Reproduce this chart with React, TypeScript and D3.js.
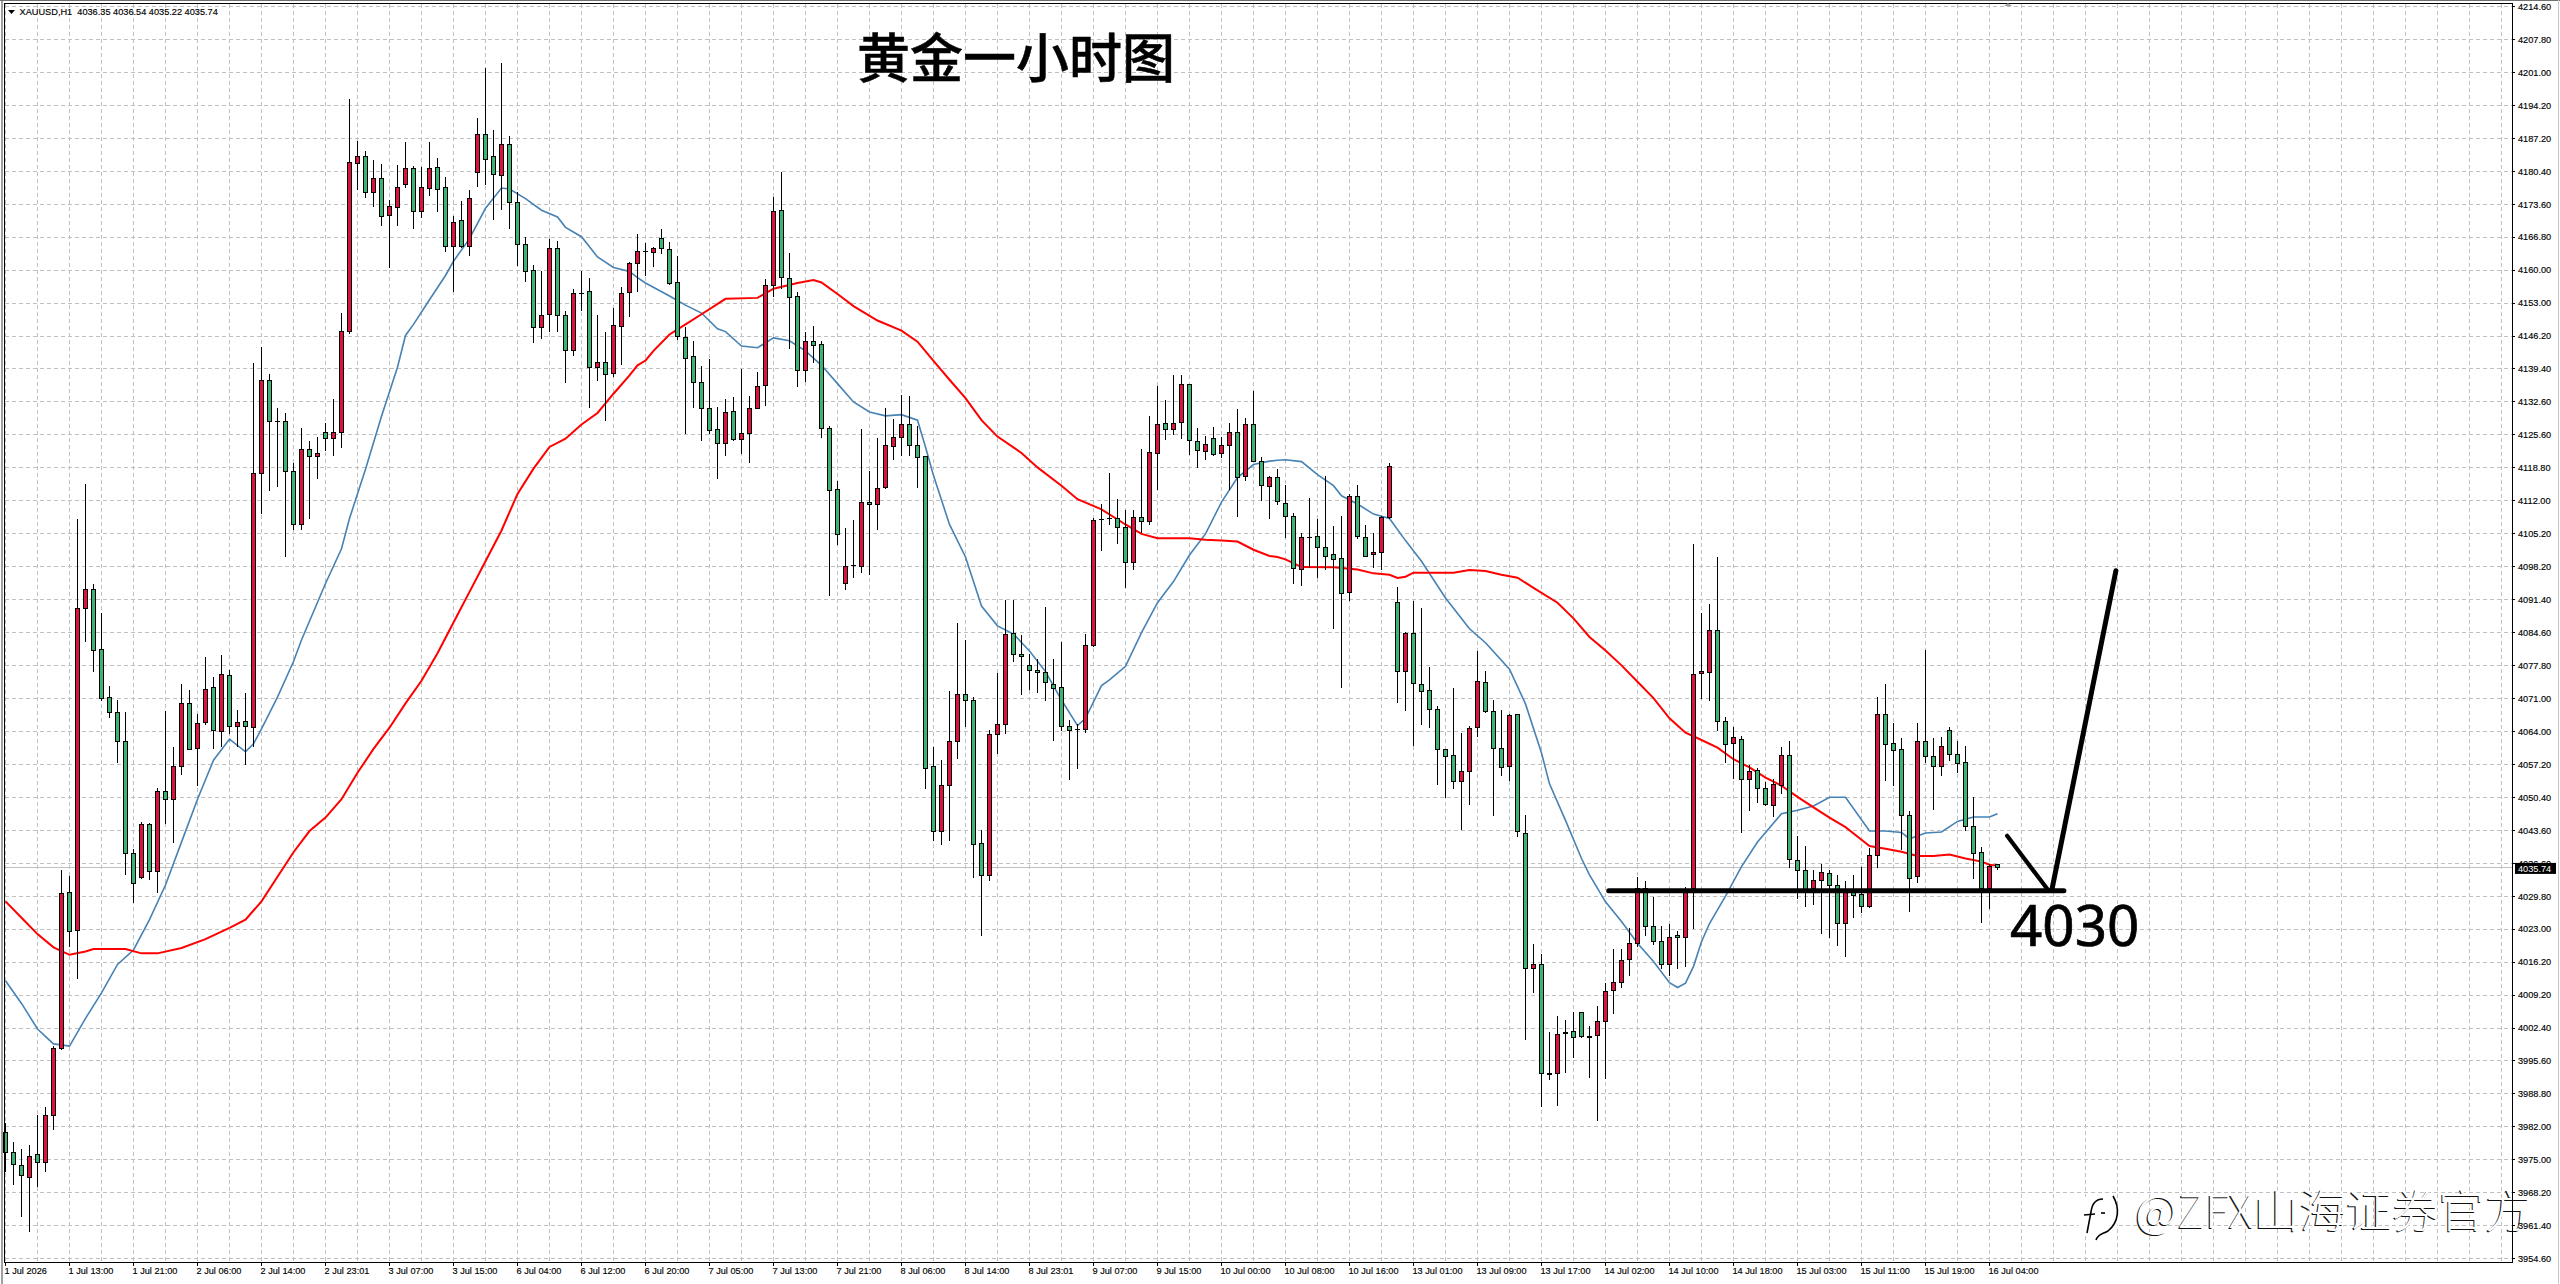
import * as d3 from 'd3';
import * as React from 'react';

const symbolLine = 'XAUUSD,H1  4036.35 4036.54 4035.22 4035.74';
const lastPrice = 4035.74;

const priceLabels = [
  '4214.60', '4207.80', '4201.00', '4194.20', '4187.20', '4180.40', '4173.60', '4166.80', '4160.00', '4153.00',
  '4146.20', '4139.40', '4132.60', '4125.60', '4118.80', '4112.00', '4105.20', '4098.20', '4091.40', '4084.60',
  '4077.80', '4071.00', '4064.00', '4057.20', '4050.40', '4043.60', '4036.60', '4029.80', '4023.00', '4016.20',
  '4009.20', '4002.40', '3995.60', '3988.80', '3982.00', '3975.00', '3968.20', '3961.40', '3954.60',
];

// one label every 8 bars
const timeLabels = [
  '1 Jul 2026', '1 Jul 13:00', '1 Jul 21:00', '2 Jul 06:00', '2 Jul 14:00', '2 Jul 23:01', '3 Jul 07:00', '3 Jul 15:00',
  '6 Jul 04:00', '6 Jul 12:00', '6 Jul 20:00', '7 Jul 05:00', '7 Jul 13:00', '7 Jul 21:00', '8 Jul 06:00', '8 Jul 14:00',
  '8 Jul 23:01', '9 Jul 07:00', '9 Jul 15:00', '10 Jul 00:00', '10 Jul 08:00', '10 Jul 16:00', '13 Jul 01:00', '13 Jul 09:00',
  '13 Jul 17:00', '14 Jul 02:00', '14 Jul 10:00', '14 Jul 18:00', '15 Jul 03:00', '15 Jul 11:00', '15 Jul 19:00', '16 Jul 04:00',
];

const opens = [
  3980.7,3976.6,3973.9,3971.5,3976.2,3974.5,3984.4,3998.3,4030.6,4022.7,
  4089.7,4093.6,4081.1,4071.2,4068.1,4061.9,4038.7,4033.7,4044.8,4034.9,
  4051.7,4049.9,4056.9,4069.9,4060.6,4065.9,4073.1,4064.1,4075.7,4065.1,
  4066.2,4064.9,4117.7,4137,4128.5,4128.5,4118,4107,4122.7,4121.2,
  4126.2,4124.8,4126.2,4147.1,4182,4183.4,4175.9,4178.8,4171.3,4172.8,
  4177.6,4180.9,4172,4176.9,4181.1,4177,4164.7,4170.1,4164.7,4180.2,
  4188.1,4183.4,4179.6,4186,4174,4165.1,4159.8,4147.9,4150.6,4164.3,
  4150.4,4143.1,4155.1,4155.4,4139.6,4140.7,4138.4,4148.1,4155.2,4161.2,
  4163.8,4163.6,4166.4,4164.1,4157.2,4145.9,4141.9,4136.5,4131.1,4126.8,
  4123.8,4130.5,4124.7,4126,4131.1,4135.9,4156.6,4172.3,4158.2,4154.3,
  4139,4145,4144.4,4127,4114.3,4094.8,4098.5,4098.4,4111.7,4111.3,
  4114.7,4123.2,4125.1,4127.8,4123.5,4121.2,4056.7,4043.2,4052.9,4061.9,
  4071.8,4070.5,4040.9,4034.1,4063.5,4065.5,4084.5,4080.1,4077.8,4076.7,
  4076.4,4073.8,4073.1,4065.1,4064.5,4064.4,4082,4108,4108.2,4108.3,
  4106.4,4099.1,4108.6,4107.7,4121.8,4128.1,4126.8,4128.2,4136.1,4124.3,
  4122.3,4124.8,4121.8,4123.4,4126.2,4117,4127.8,4120.1,4114.9,4116.9,
  4111.4,4108.8,4097.7,4104.4,4104.5,4102.2,4100.8,4099.9,4092.9,4112.8,
  4104.3,4100.8,4101.2,4108.4,4090.9,4076.5,4084.5,4073.9,4072.5,4068.7,
  4060.4,4059,4053.6,4055.8,4064.8,4074.3,4068.3,4060.6,4056.7,4067.5,
  4042.9,4014.8,4015.7,3993,3993,4001.4,4001.8,4005.7,4000.7,4000.9,
  4003.9,4010.3,4012,4016.8,4020.1,4031.5,4023.6,4020.5,4015.7,4021.7,
  4021.3,4031.4,4076.1,4076.4,4085.1,4066.2,4061.6,4062.5,4054.2,4055.9,
  4052.2,4048.8,4052.8,4059,4037.2,4035.2,4031.4,4033.2,4034.5,4032.1,
  4024.3,4030.8,4030.3,4027.8,4038.4,4067.6,4061.5,4060.4,4046.7,4033.9,
  4062,4058.9,4056.7,4064.2,4059.3,4057.7,4044.4,4038.9,4031.4,4036.35,
];

const highs = [
  3982.8,3978.8,3977.4,3978.2,3984.5,3986,3998.8,4035.4,4034.1,4108.1,
  4115.5,4094.7,4088.6,4073.6,4070.6,4068.2,4039.6,4045.2,4045,4052.4,
  4068.3,4060.9,4073.9,4072.7,4067.6,4079.5,4075.4,4079.9,4076.9,4068.6,
  4072.1,4140.6,4144,4138.3,4131.3,4130.2,4119.9,4127.1,4124.4,4125.3,
  4128.1,4133.1,4150.9,4195.4,4186.7,4184.5,4182.8,4182,4174.5,4181.6,
  4186.5,4181.5,4181.2,4186.4,4183.2,4179.3,4171.1,4174.3,4176.5,4191.5,
  4201.8,4188.9,4202.9,4187.7,4176.1,4166.7,4161,4159.7,4166.3,4166,
  4151.4,4155.9,4159.7,4158.3,4150.5,4147.1,4152,4156.4,4161.5,4167.4,
  4165.4,4164.6,4168.5,4165.6,4162.7,4148,4145.2,4140,4141.4,4131.5,
  4133.1,4133.5,4139.3,4133.8,4138.8,4158.1,4175.1,4180.3,4163.4,4155.4,
  4147,4148.2,4145.2,4127.6,4116,4106.4,4108,4126.9,4118.1,4125.1,
  4131.2,4129,4134,4133.7,4127.4,4121.3,4060.9,4058.2,4072.5,4086.5,
  4083.1,4071.2,4043.7,4064.4,4076.3,4091.4,4091.3,4084.2,4080.2,4079.1,
  4089.9,4079.1,4082.7,4066.4,4065.7,4084.4,4108.3,4111.3,4117.8,4112.3,
  4110,4110,4122.7,4129.5,4135.9,4132.8,4138.1,4138.1,4136.3,4127,
  4125.5,4127.3,4125.2,4128.2,4131,4129.1,4134.7,4121,4117.2,4118.5,
  4115.3,4109.5,4105.3,4112.6,4108.1,4117.1,4106.7,4108.9,4113.4,4115.3,
  4106.9,4105.3,4108.9,4119.9,4094.1,4084.7,4091.1,4089.7,4077.5,4069.3,
  4060.5,4073.1,4063.7,4065.3,4080.8,4076.6,4070.6,4068.5,4067.6,4067.6,
  4046.7,4019.9,4017.9,4001.7,4005,4004.2,4005.8,4005.8,4002.9,4007.1,
  4011.8,4018.9,4018.9,4023.2,4033.9,4033,4029.7,4023.7,4024,4022.6,
  4031.7,4103,4088.7,4090.5,4100.4,4067,4065.1,4063.1,4057.2,4056.5,
  4053.5,4054.3,4060.8,4062.1,4042.4,4040.2,4035.3,4036.5,4035.4,4034.2,
  4033.1,4034.2,4035.9,4039.9,4071.3,4073.9,4065.9,4062.8,4047.6,4065.9,
  4080.9,4062.7,4063,4065,4062,4061,4050.4,4040,4036.5,4036.54,
];

const lows = [
  3972.5,3969.9,3963.3,3960.2,3969.4,3972.7,3981.3,3997.9,4019.3,4012.6,
  4082.6,4076.5,4070.3,4066.9,4057.6,4034.2,4028.4,4033.5,4033.2,4030.5,
  4044.9,4041,4055.1,4060.3,4052.8,4065.5,4060.5,4060.9,4063.5,4060.9,
  4057.2,4060.9,4109.3,4114,4114.8,4100.3,4105.9,4106,4108.1,4116.4,
  4122.4,4121.2,4122.9,4146.6,4176.4,4174.9,4172.9,4169,4160.3,4169,
  4176.9,4168.3,4170.6,4175.3,4172,4163.7,4155.3,4164.4,4162.7,4177.2,
  4177.5,4170.2,4172.3,4168.3,4160.8,4157.4,4144.8,4145.6,4147,4147,
  4136.4,4142.1,4151.4,4131.3,4136.9,4128.5,4137.6,4140.2,4150.1,4155.3,
  4158.6,4160.6,4163.3,4156.8,4145.4,4125.9,4131.2,4124.4,4125.9,4116.5,
  4121.3,4124.3,4121.7,4119.8,4131,4131.6,4154.3,4156,4143.5,4135.6,
  4136.7,4140.6,4125.1,4092.1,4102.8,4093.4,4095.9,4096.9,4096.5,4105.9,
  4114.5,4120.4,4121.3,4121.3,4114.7,4052.1,4041.3,4040.5,4041.3,4058.4,
  4065,4033.7,4021.6,4033.1,4059.3,4063.5,4078.4,4071.6,4072.6,4072.1,
  4070.4,4062.1,4064.2,4054,4056.2,4063.7,4081.6,4101.5,4107,4103.1,
  4093.8,4097.7,4105.2,4106.9,4114.2,4124.6,4125.6,4124.9,4121.5,4118.8,
  4120.4,4121.3,4120.9,4114.2,4108.6,4116,4120,4112,4108.1,4111,
  4104.2,4094.7,4094.3,4098.1,4095.9,4097.5,4085.3,4073,4091.1,4104.1,
  4100.3,4098,4097.6,4108.2,4070,4068.4,4061.1,4065.5,4064.7,4052.9,
  4050.2,4052.2,4043.7,4048.9,4063,4068,4046.6,4054.9,4053.7,4042.2,
  4000.1,4009.8,3986.2,3991.7,3986.4,3993.2,3996.3,4000.4,3992.2,3983.2,
  3992,4005.5,4010.9,4013.2,4019.3,4021.5,4019.7,4014.8,4013.3,4014.8,
  4015.2,4023.1,4070.9,4070.4,4064.2,4057.6,4054.3,4043,4047.5,4049.2,
  4048.5,4046.4,4051.1,4035.7,4029.3,4027.7,4028,4022,4021.2,4019.5,
  4017.2,4025.3,4026.4,4027.4,4035.7,4053.8,4052.8,4039.4,4026.5,4032.6,
  4057.6,4047.7,4054.9,4058,4055.4,4043.4,4033.5,4024.2,4027.3,4035.22,
];

const closes = [
  3976.6,3974.1,3971.8,3975.9,3974.5,3984.4,3998.3,4030.4,4022.5,4089.7,
  4093.6,4080.9,4070.9,4068.1,4061.9,4038.7,4032.5,4044.8,4034.9,4051.7,
  4050,4056.9,4069.8,4060.4,4065.8,4072.8,4064.3,4075.9,4065.1,4066,
  4065.1,4117.6,4137,4128.5,4128.4,4118.1,4107,4122.7,4121.2,4121.7,
  4124.8,4126.2,4147.1,4182.3,4183.4,4175.9,4178.8,4171.1,4173,4177.1,
  4180.9,4172,4177.1,4180.9,4176.7,4164.7,4169.7,4164.7,4174.7,4188.1,
  4182.9,4179.8,4185.9,4174,4165.1,4159.6,4147.9,4150.5,4164.3,4150.4,
  4143.1,4155,4155,4139.6,4140.7,4138.2,4148.4,4155,4161.2,4163.8,
  4163.7,4164.3,4164.3,4157.1,4146,4141.6,4136.5,4131.1,4126.5,4123.8,
  4130.4,4124.7,4126,4131.1,4135.7,4156.6,4172.1,4158.4,4154.1,4139,
  4145,4144.3,4127,4114.2,4105,4098.4,4098.6,4111.7,4111.3,4114.6,
  4123.5,4125.1,4127.8,4123.4,4120.9,4056.4,4043.2,4052.8,4061.9,4071.8,
  4070.5,4040.7,4034.1,4063.5,4065.6,4084.3,4080.1,4079.6,4076.7,4076.3,
  4074.2,4073,4065.1,4064.2,4064.4,4082,4107.9,4108.1,4108.3,4106.4,
  4099.1,4108.6,4107.7,4122,4127.8,4126.8,4128.1,4136.1,4124.5,4122.4,
  4123.7,4121.6,4123.4,4126.2,4116.8,4127.8,4120.1,4115.2,4116.9,4111.9,
  4108.8,4097.9,4104.3,4104.3,4102.2,4100.5,4099.8,4092.8,4112.8,4104.5,
  4100.4,4101.2,4108.5,4119,4076.5,4084.5,4074.1,4072.4,4068.7,4060.3,
  4058.9,4053.7,4055.7,4064.6,4074.5,4068.2,4060.6,4056.5,4067.3,4043.2,
  4014.9,4015.7,3993,3992.9,4001.2,4001.5,4000.6,4000.7,4000.6,4003.9,
  4010.1,4012,4016.5,4020.1,4031.5,4023.5,4020.4,4015.6,4021.3,4021.3,
  4031.2,4076,4076.5,4085.1,4066.2,4061.4,4062.9,4054.2,4055.7,4052.3,
  4048.9,4053,4059,4037.4,4035.3,4031,4033.1,4034.8,4032,4024.3,
  4030.8,4030.1,4027.8,4038.3,4067.6,4061.3,4060.2,4046.7,4033.5,4062,
  4058.9,4056.7,4060.9,4059.3,4057.5,4044.4,4038.8,4031.4,4036.1,4035.74,
];

// moving averages, read at the bars where the line visibly bends
const fastMa: [number, number][] = [
  [0,4012.3],[2,4007.6],[4,4002.3],[6,3999.2],[8,3998.75],[10,4004.5],[12,4009.8],[14,4015.7],[16,4018.7],[18,4025],
  [20,4032.2],[22,4041.1],[24,4050],[26,4058.1],[28,4062.5],[30,4059.85],[31,4061.5],[32,4064.6],[34,4071.2],[36,4078.6],
  [37,4083.06],[40,4094.8],[42,4102],[43,4108.3],[45,4118.5],[47,4129.5],[49,4139.7],[50,4146.3],[51,4148.6],[53,4153.7],
  [55,4158.75],[56,4161.7],[58,4166.4],[60,4172.7],[62,4176.9],[63,4176.7],[65,4174.7],[67,4172.3],[69,4170.9],[70,4168.75],
  [72,4166.8],[74,4162.6],[76,4160.4],[78,4159.6],[79,4158.3],[80,4157.2],[83,4154.5],[85,4152.6],[87,4150.95],[89,4147.7],
  [90,4147.1],[92,4144.1],[94,4143.75],[96,4145.8],[98,4145.2],[100,4143.1],[102,4140.1],[104,4136.3],[106,4132.5],[108,4130.4],
  [110,4129.6],[112,4129.85],[114,4128.7],[115,4123.15],[116,4117.2],[118,4107.05],[120,4100.3],[122,4090.1],[124,4086],[126,4084.3],
  [128,4080.8],[130,4076.5],[132,4070.6],[134,4065.3],[135,4066.8],[137,4073.6],[138,4074.8],[140,4077.6],[142,4084.6],[144,4090.8],
  [146,4095.2],[148,4100.7],[150,4105.1],[152,4111.7],[154,4116.8],[156,4119.5],[158,4120.2],[159,4120.4],[160,4120.5],[162,4120.1],
  [164,4117.4],[166,4115.1],[167,4113],[169,4111.3],[171,4109.2],[173,4108.3],[175,4103.7],[177,4099.4],[180,4091.8],[183,4085.4],
  [185,4082.5],[188,4077],[190,4069.8],[192,4059.6],[193,4053.2],[195,4045.6],[197,4037.7],[198,4034.3],[199,4031.5],[200,4028.7],
  [202,4024.6],[204,4020.1],[206,4016.3],[208,4011.9],[209,4010.9],[210,4011.8],[211,4015.3],[212,4020.4],[213,4024.2],[215,4029.9],
  [217,4036],[219,4041.1],[222,4047],[224,4047.7],[226,4048.6],[228,4050.4],[230,4050.4],[233,4043.4],[235,4043.4],[237,4043.1],
  [238,4041.8],[240,4043],[242,4043.2],[244,4045.4],[246,4046.3],[248,4046.3],[249,4047],
];

const slowMa: [number, number][] = [
  [0,4028.8],[2,4025.4],[4,4022],[6,4019.25],[8,4017.7],[10,4018.4],[11,4018.9],[15,4018.9],[17,4018],[19,4018],
  [22,4019.1],[25,4020.95],[28,4023.3],[30,4025],[32,4028.8],[34,4033.9],[36,4039],[38,4043.4],[40,4046.2],[42,4050],
  [44,4055.5],[46,4060.45],[48,4064.85],[50,4069.9],[52,4074.6],[54,4080.3],[56,4086.7],[58,4093.06],[60,4099.4],[62,4105.8],
  [64,4113.4],[66,4118.65],[68,4123.15],[70,4124.85],[72,4127.8],[74,4130.2],[76,4134.2],[78,4138],[79,4140.1],[80,4141.1],
  [81,4143.1],[83,4146.5],[85,4148.6],[87,4150.7],[90,4153.9],[94,4154.1],[96,4156],[99,4157.2],[101,4157.8],[102,4157.3],
  [104,4154.9],[106,4152.4],[109,4149.4],[112,4147.3],[114,4145],[116,4141],[118,4137.1],[120,4133.3],[122,4128.7],[124,4125.3],
  [127,4121.9],[129,4118.9],[132,4115.1],[134,4112.3],[137,4110.2],[140,4107.05],[142,4105.1],[144,4104.2],[148,4104.2],[150,4103.9],
  [152,4103.7],[154,4103.5],[156,4101.8],[158,4100.5],[159,4100.3],[160,4099.8],[162,4098.2],[166,4098.15],[169,4097.7],[171,4096.9],
  [173,4096.6],[174,4095.95],[175,4096.2],[176,4097.05],[179,4097.05],[181,4097.05],[183,4097.6],[185,4097.4],[187,4096.6],[189,4096],
  [191,4093.9],[194,4090.8],[196,4087.55],[198,4083.7],[200,4080.9],[202,4077.8],[204,4074.4],[206,4071],[208,4066.8],[210,4063.8],
  [212,4062.3],[214,4060.7],[216,4058.3],[218,4056.6],[220,4054.5],[222,4052.8],[224,4050.5],[226,4048.3],[228,4046.2],[230,4044.2],
  [232,4041.6],[233,4040.3],[235,4039.7],[237,4039.1],[239,4038.2],[241,4038.2],[243,4038.5],[245,4037.7],[247,4037.05],[248,4036.4],
  [249,4036.2],
];

// hand-drawn annotation, as [bar, price]
const supportLine: [number, number][] = [[200.4, 4031], [257.3, 4031]];
const pullbackLine: [number, number][] = [[250.2, 4042.4], [255.3, 4031.2]];
const reboundLine: [number, number][] = [[255.8, 4031.2], [263.8, 4097.45]];

const axisFont = '"Liberation Sans", Arial, sans-serif';
const cjkFont = '"Noto Sans CJK SC", "Noto Sans", sans-serif';

const xScale = d3.scaleLinear().domain([0, 249]).range([5.5, 1997.5]);
const yScale = d3.scaleLinear().domain([3954.6, 4214.6]).range([1258.7, 6.5]);
const yLabelScale = d3.scalePoint<string>().domain(priceLabels).range([6.5, 1258.7]);
const gridBars = d3.range(0, 313, 4);

const maLine = d3
  .line<[number, number]>()
  .x((d) => xScale(d[0]))
  .y((d) => yScale(d[1]));

const App = () => {
  const lastY = yScale(lastPrice);
  const watermark = '@ZFX山海证券官方';

  return (
    <svg
      width={2560}
      height={1284}
      style={{ position: 'absolute', left: 0, top: 0, display: 'block', background: '#fff' }}
    >
      {/* grid */}
      <g stroke="#C0C0C0" strokeWidth={1} strokeDasharray="4 3" shapeRendering="crispEdges">
        {priceLabels.map((label) => (
          <line key={label} x1={5} x2={2512} y1={yLabelScale(label)} y2={yLabelScale(label)} />
        ))}
        {gridBars.map((bar) => (
          <line key={bar} x1={xScale(bar)} x2={xScale(bar)} y1={4} y2={1262} />
        ))}
      </g>

      {/* last price line */}
      <line x1={5} x2={2512} y1={lastY} y2={lastY} stroke="#C0C0C0" strokeWidth={1} shapeRendering="crispEdges" />

      {/* moving averages */}
      <path d={maLine(fastMa) || ''} fill="none" stroke="#4682B4" strokeWidth={1.6} />
      <path d={maLine(slowMa) || ''} fill="none" stroke="#FF0000" strokeWidth={2} />

      {/* candles */}
      <g shapeRendering="crispEdges">
        {opens.map((open, i) => {
          const close = closes[i];
          const x = xScale(i);
          const top = yScale(Math.max(open, close));
          const bottom = yScale(Math.min(open, close));
          return (
            <g key={i}>
              <line x1={x} x2={x} y1={yScale(highs[i])} y2={yScale(lows[i])} stroke="#000" strokeWidth={1} />
              <rect
                x={x - 2}
                y={top}
                width={4}
                height={Math.max(bottom - top, 0.5)}
                fill={close >= open ? '#DC143C' : '#3CB371'}
                stroke="#000"
                strokeWidth={1}
              />
            </g>
          );
        })}
      </g>

      {/* annotation */}
      <g fill="none" stroke="#000" strokeLinecap="round">
        <path d={maLine(supportLine) || ''} strokeWidth={5} />
        <path d={maLine(pullbackLine) || ''} strokeWidth={4.2} />
        <path d={maLine(reboundLine) || ''} strokeWidth={5} />
      </g>
      <text x={2010} y={946} fontFamily={'"Noto Sans", sans-serif'} fontSize={56.5} fill="#000" stroke="#000" strokeWidth={0.7}>
        4030
      </text>
      <text x={857} y={78} fontFamily={cjkFont} fontSize={53} fontWeight={500} fill="#000" stroke="#000" strokeWidth={0.5}>
        黄金一小时图
      </text>

      {/* watermark */}
      <g>
        <circle cx={2098} cy={1215} r={22} fill="#fff" />
        <g fill="none" stroke="#000" strokeWidth={1.6}>
          <path d="M2113,1196 C2120,1208 2119,1222 2108,1231 C2103,1234 2098,1234 2096,1240" />
          <path d="M2103,1199 C2095,1199 2092,1204 2091,1212 L2087,1233" />
          <path d="M2084,1215 L2095,1214" />
          <path d="M2101,1213 L2105,1213" />
        </g>
        <text
          x={2134}
          y={1229}
          fontFamily={cjkFont}
          fontSize={45}
          fontWeight={300}
          textLength={396}
          lengthAdjust="spacingAndGlyphs"
          fill="#111"
        >
          {watermark}
        </text>
        <text
          x={2135.2}
          y={1228.4}
          fontFamily={cjkFont}
          fontSize={45}
          fontWeight={300}
          textLength={396}
          lengthAdjust="spacingAndGlyphs"
          fill="#fff"
        >
          {watermark}
        </text>
      </g>

      {/* window frame and plot border */}
      <rect x={1} y={0} width={2} height={1284} fill="#A0A0A0" />
      <rect x={0} y={0} width={2560} height={1} fill="#707070" />
      <rect x={2558} y={0} width={1} height={1284} fill="#C8C8C8" />
      <rect x={4.5} y={3.5} width={2508} height={1259} fill="none" stroke="#000" strokeWidth={1} shapeRendering="crispEdges" />
      <path d="M2004,6 L2012,6 L2008,3 Z" fill="#A0A0A0" />

      {/* price axis */}
      <g fontFamily={axisFont} fontSize={9.2} fill="#000" stroke="#000" strokeWidth={0.15}>
        {priceLabels.map((label) => (
          <g key={label} transform={`translate(0,${yLabelScale(label)})`}>
            <line x1={2512} x2={2515} shapeRendering="crispEdges" strokeWidth={1} />
            <text x={2518} y={3.3}>
              {label}
            </text>
          </g>
        ))}
      </g>
      <rect x={2515} y={lastY - 5} width={41} height={11} fill="#000" />
      <text x={2518} y={lastY + 3.8} fontFamily={axisFont} fontSize={9.2} fill="#fff">
        {lastPrice.toFixed(2)}
      </text>

      {/* time axis */}
      <g fontFamily={axisFont} fontSize={9.2} fill="#000" stroke="#000" strokeWidth={0.15}>
        {timeLabels.map((label, i) => (
          <g key={label} transform={`translate(${xScale(i * 8)},0)`}>
            <line y1={1262} y2={1266} shapeRendering="crispEdges" strokeWidth={1} />
            <text x={-1} y={1274}>
              {label}
            </text>
          </g>
        ))}
      </g>

      {/* symbol line */}
      <path d="M8,10 L15,10 L11.5,14 Z" fill="#000" />
      <text x={19.6} y={14.8} fontFamily={axisFont} fontSize={9.2} fill="#000" stroke="#000" strokeWidth={0.15} xmlSpace="preserve">
        {symbolLine}
      </text>
    </svg>
  );
};

export default App;
